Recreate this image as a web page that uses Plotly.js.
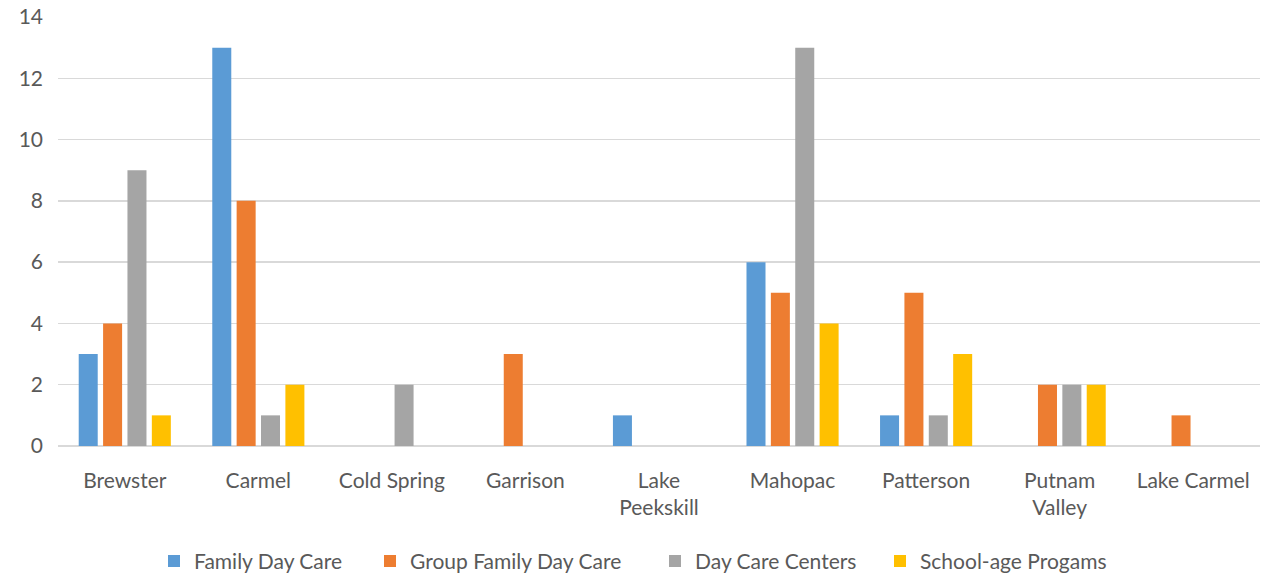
<!DOCTYPE html>
<html>
<head>
<meta charset="utf-8">
<script src="https://cdn.plot.ly/plotly-3.0.1.min.js"></script>
<style>html,body{margin:0;padding:0;background:#fff;}#chart{width:1268px;height:578px;}</style>
</head>
<body>
<div id="chart"></div>
<script>
const categories = ["Brewster", "Carmel", "Cold Spring", "Garrison", "Lake<br>Peekskill", "Mahopac", "Patterson", "Putnam<br>Valley", "Lake Carmel"];
const seriesNames = ["Family Day Care", "Group Family Day Care", "Day Care Centers", "School-age Progams"];
const familyDayCare =      [3, 13, 0, 0, 1, 6, 1, 0, 0];
const groupFamilyDayCare = [4, 8, 0, 3, 0, 5, 5, 2, 1];
const dayCareCenters =     [9, 1, 2, 0, 0, 13, 1, 2, 0];
const schoolAgePrograms =  [1, 2, 0, 0, 0, 4, 3, 2, 0];
const yTicks = [0, 2, 4, 6, 8, 10, 12, 14];

const colors = ["#5B9BD5", "#ED7D31", "#A5A5A5", "#FFC000"];
const values = [familyDayCare, groupFamilyDayCare, dayCareCenters, schoolAgePrograms];
const legendIds = ["legend", "legend2", "legend3", "legend4"];
// left edge of each legend entry's text, in pixels
const legendTextStart = [196, 412, 697, 922];

const data = values.map((v, i) => ({
  type: "bar",
  name: seriesNames[i],
  x: categories,
  y: v,
  legend: legendIds[i],
  marker: {color: colors[i], line: {width: 0}},
  hoverinfo: "x+y+name"
}));

const font = {family: "Lato, 'Open Sans', sans-serif", color: "#595959", size: 21};

const layout = {
  width: 1268, height: 578,
  margin: {l: 58, r: 8, t: 17, b: 132},
  paper_bgcolor: "#ffffff", plot_bgcolor: "#ffffff",
  barmode: "group",
  bargap: 0.27,
  bargroupgap: 0.22,
  font: font,
  showlegend: true,
  xaxis: {type: "category", showgrid: false, zeroline: false, showline: false,
          ticks: "", ticklabelstandoff: 20, tickfont: font, automargin: false},
  yaxis: {range: [0, 14], tickvals: yTicks, ticktext: yTicks.map(String),
          showgrid: true, gridcolor: "#D9D9D9", gridwidth: 1.5, zeroline: true,
          zerolinecolor: "#D9D9D9", zerolinewidth: 1.5, showline: false,
          ticks: "", ticklabelstandoff: 14, tickfont: font, automargin: false}
};
legendIds.forEach((id, i) => {
  layout[id] = {orientation: "h", xref: "container", yref: "container",
    x: (legendTextStart[i] - 42) / 1268, xanchor: "left",
    y: 0.029, yanchor: "middle",
    font: {family: font.family, color: "#595959", size: 21},
    itemwidth: 30, bgcolor: "rgba(0,0,0,0)"};
});

Plotly.newPlot("chart", data, layout, {displayModeBar: false, staticPlot: true});
</script>
</body>
</html>
